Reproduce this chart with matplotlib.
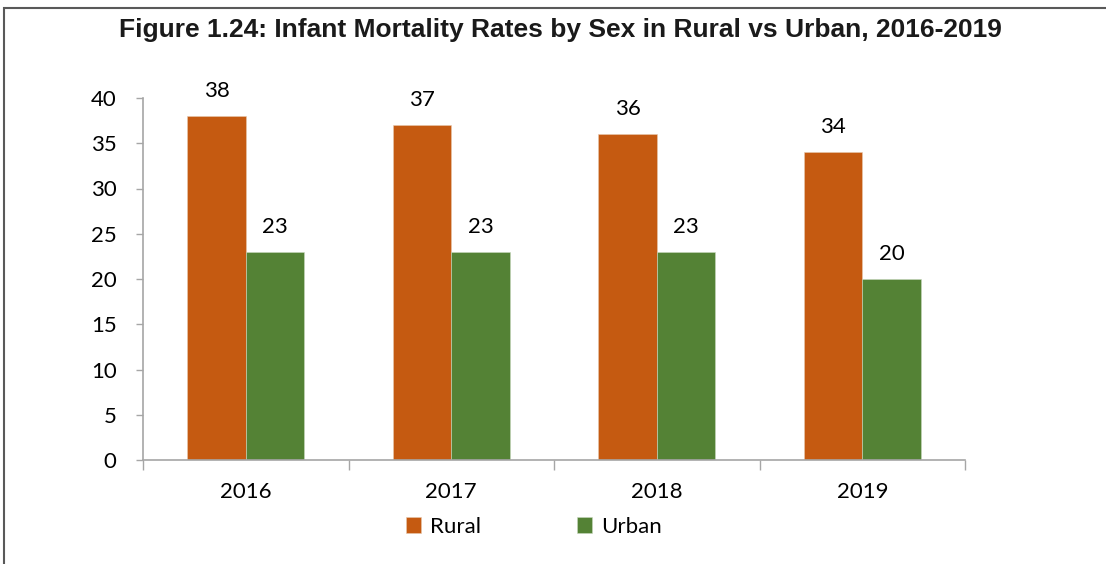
import matplotlib
matplotlib.use("Agg")
import matplotlib.pyplot as plt
from matplotlib.patches import Rectangle
import numpy as np

years = ["2016", "2017", "2018", "2019"]
rural = [38, 37, 36, 34]
urban = [23, 23, 23, 20]
series_names = ["Rural", "Urban"]
colors = ["#C55A11", "#548235"]
title = "Figure 1.24: Infant Mortality Rates by Sex in Rural vs Urban, 2016-2019"

num_font = "Lato"
fs = 16

fig = plt.figure(figsize=(11.06, 5.64), dpi=100)
ax = fig.add_axes([143/1106, 1-460/564, (965-143)/1106, (460-98)/564])

x = np.arange(len(years))
w = 0.285
b1 = ax.bar(x - w/2, rural, w, color=colors[0], edgecolor="#E8C9B0", linewidth=0.4, label=series_names[0])
b2 = ax.bar(x + w/2, urban, w, color=colors[1], edgecolor="#C9D9BF", linewidth=0.4, label=series_names[1])

for bars, vals in ((b1, rural), (b2, urban)):
    for r, v in zip(bars, vals):
        ax.annotate(str(v), (r.get_x() + r.get_width()/2, v), xytext=(0, 11),
                    textcoords="offset points", ha="center", va="bottom",
                    fontsize=fs, family=num_font, color="black")

ax.set_xlim(-0.5, len(years) - 0.5)
ax.set_ylim(0, 40)
ax.set_yticks(range(0, 41, 5))
ax.tick_params(axis="y", labelsize=fs, length=5, color="#A6A6A6", width=1, pad=14)
for lab in ax.get_yticklabels():
    lab.set_family(num_font)

ax.set_xticks(np.arange(-0.5, len(years), 1.0))
ax.set_xticklabels([])
ax.tick_params(axis="x", which="major", length=7, color="#A6A6A6", width=1)
ax.set_xticks(x, minor=True)
ax.set_xticklabels(years, minor=True)
ax.tick_params(axis="x", which="minor", length=0, labelsize=fs, pad=16)
for lab in ax.get_xticklabels(minor=True):
    lab.set_family(num_font)

for s in ("top", "right"):
    ax.spines[s].set_visible(False)
for s in ("left", "bottom"):
    ax.spines[s].set_color("#A6A6A6")
    ax.spines[s].set_linewidth(1.2)

fig.text(560/1106, 1-30/564, title, ha="center", va="center", fontsize=19,
         fontweight="bold", family="Liberation Sans", color="#1a1a1a")

leg = fig.legend(handles=[b1, b2], labels=series_names, loc="center",
                 bbox_to_anchor=(534/1106, 1-527/564), ncol=2, frameon=False,
                 prop={"family": num_font, "size": fs}, handlelength=0.7,
                 handleheight=0.7, columnspacing=4.3, handletextpad=0.4)

fig.patches.append(Rectangle((4/1106, -0.1), 1.2, 1 - 8/564 + 0.1, transform=fig.transFigure,
                             fill=False, edgecolor="#595959", linewidth=1.5))

fig.savefig("out.png", dpi=100)
